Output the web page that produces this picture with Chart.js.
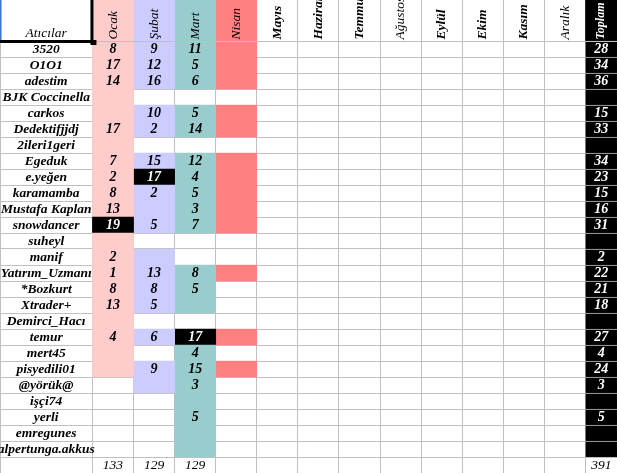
<!DOCTYPE html>
<html>
<head>
<meta charset="utf-8">
<script src="https://cdn.jsdelivr.net/npm/chart.js@4/dist/chart.umd.min.js"></script>
<style>
html,body{margin:0;padding:0;background:#ffffff;overflow:hidden}
#wrap{width:617px;height:473px;position:relative}
</style>
</head>
<body>
<div id="wrap"><canvas id="c" width="617" height="473"></canvas></div>
<script>
// ---------- data ----------
const headerName = "Atıcılar";
const months = ["Ocak","Şubat","Mart","Nisan","Mayıs","Haziran","Temmuz","Ağustos","Eylül","Ekim","Kasım","Aralık"];
const totalLabel = "Toplam";

const names = ["3520","O1O1","adestim","BJK Coccinella","carkos","Dedektifjjdj","2ileri1geri","Egeduk","e.yeğen","karamamba","Mustafa Kaplan","snowdancer","suheyl","manif","Yatırım_Uzmanı","*Bozkurt","Xtrader+","Demirci_Hacı","temur","mert45","pisyedili01","@yörük@","işçi74","yerli","emregunes","alpertunga.akkus"];

const ocak  = [8,17,14,null,null,17,null,7,2,8,13,19,null,2,1,8,13,null,4,null,null,null,null,null,null,null];
const subat = [9,12,16,null,10,2,null,15,17,2,null,5,null,null,13,8,5,null,6,null,9,null,null,null,null,null];
const mart  = [11,5,6,null,5,14,null,12,4,5,3,7,null,null,8,5,null,null,17,4,15,3,null,5,null,null];
const nisan = [null,null,null,null,null,null,null,null,null,null,null,null,null,null,null,null,null,null,null,null,null,null,null,null,null,null];

// which player/month cells are marked (filled) in the sheet (1 = marked)
const ocakActive  = [1,1,1,1,1,1,1,1,1,1,1,1,1,1,1,1,1,1,1,1,1,0,0,0,0,0];
const subatActive = [1,1,1,0,1,1,0,1,1,1,1,1,0,1,1,1,1,0,1,0,1,1,0,0,0,0];
const martActive  = [1,1,1,0,1,1,0,1,1,1,1,1,0,0,1,1,1,0,1,1,1,1,1,1,1,1];
const nisanActive = [1,1,1,0,1,1,0,1,1,1,1,1,0,0,1,0,0,0,1,0,1,0,0,0,0,0];

// ---------- layout / style (not data) ----------
const NAME_W = 2.25;      // width of the name column, in month-column units
const TOTAL_W = 0.766;    // visible width of the Toplam column
const HEADER_H = 2.5625;  // header height, in row units
const GRID = "#c0c0c0";
const FONT = '"Liberation Serif","Times New Roman",serif';
const fillColors = ["#ffcccc","#ccccff","#99cccc","#ff8080"];
const boldHeaders = ["Mayıs","Haziran","Temmuz","Eylül","Ekim","Kasım"];

const monthValues = [ocak, subat, mart, nisan];
const monthActive = [ocakActive, subatActive, martActive, nisanActive];

function colMax(vals){
  const v = vals.filter(a => a !== null);
  return v.length ? Math.max(...v) : null;
}
function rowTotal(r){
  let s = 0, any = false;
  monthValues.forEach(vals => { if (vals[r] !== null) { s += vals[r]; any = true; } });
  return any ? s : null;
}
function colTotal(vals){
  const v = vals.filter(a => a !== null);
  return v.length ? v.reduce((a,b)=>a+b,0) : null;
}

const datasets = monthValues.map((vals, k) => {
  const mx = colMax(vals);
  const data = [{x: k + 0.5, y: [-HEADER_H, 0], hl: false, head: true}];
  names.forEach((n, r) => {
    if (monthActive[k][r] || vals[r] !== null) {
      data.push({x: k + 0.5, y: [r, r + 1], hl: vals[r] !== null && vals[r] === mx, head: false});
    }
  });
  return {
    label: months[k], data,
    backgroundColor: ctx => (ctx.raw && ctx.raw.hl) ? "#000000" : fillColors[k],
    borderWidth: 0, grouped: false, barPercentage: 1, categoryPercentage: 1
  };
});
// Toplam column
(function(){
  const data = [{x: 12.5, y: [-HEADER_H, 0], head: true}];
  names.forEach((n, r) => data.push({x: 12.5, y: [r, r + 1], head: false}));
  datasets.push({
    label: totalLabel, data,
    backgroundColor: "#000000",
    borderColor: GRID,
    borderWidth: ctx => (ctx.raw && !ctx.raw.head) ? {top: 1, right: 0, bottom: 0, left: 0} : 0,
    borderSkipped: false,
    grouped: false, barPercentage: 1, categoryPercentage: 1
  });
})();

const gridPlugin = {
  id: "sheetGrid",
  beforeDatasetsDraw(chart){
    const {ctx, chartArea: ca, scales: {x, y}} = chart;
    ctx.save();
    ctx.strokeStyle = GRID; ctx.lineWidth = 1;
    ctx.beginPath();
    const xs = [-NAME_W]; for (let i = 0; i <= 12; i++) xs.push(i);
    xs.forEach(u => {
      const p = Math.max(0, Math.floor(x.getPixelForValue(u))) + 0.5;
      ctx.moveTo(p, ca.top); ctx.lineTo(p, ca.bottom);
    });
    for (let r = 0; r <= names.length + 1; r++) {
      const p = Math.floor(y.getPixelForValue(r)) + 0.5;
      ctx.moveTo(ca.left, p); ctx.lineTo(ca.right, p);
    }
    ctx.stroke();
    ctx.restore();
  }
};

const textPlugin = {
  id: "sheetText",
  afterDatasetsDraw(chart){
    const {ctx, chartArea: ca, scales: {x, y}} = chart;
    const rowH = y.getPixelForValue(1) - y.getPixelForValue(0);
    const head0 = y.getPixelForValue(0);
    const nameL = x.getPixelForValue(-NAME_W), nameR = x.getPixelForValue(0);
    const nameC = (nameL + nameR) / 2;
    const totL = x.getPixelForValue(12), totC = (totL + ca.right) / 2;

    ctx.save();
    // header bottom rule across month columns
    ctx.strokeStyle = GRID; ctx.lineWidth = 1;
    ctx.beginPath();
    ctx.moveTo(nameR, Math.floor(head0) + 0.5); ctx.lineTo(ca.right, Math.floor(head0) + 0.5);
    ctx.stroke();

    // header name
    ctx.fillStyle = "#000"; ctx.textAlign = "center"; ctx.textBaseline = "alphabetic";
    ctx.font = "italic 13.5px " + FONT;
    ctx.fillText(headerName, nameC, head0 - rowH * 0.22);

    // rotated month headers
    const heads = months.concat([totalLabel]);
    heads.forEach((m, k) => {
      const l = x.getPixelForValue(k);
      const r = k < 12 ? x.getPixelForValue(k + 1) : ca.right;
      ctx.save();
      ctx.beginPath(); ctx.rect(l, ca.top, r - l, head0 - ca.top); ctx.clip();
      ctx.translate((l + r) / 2, head0 - rowH * 0.1);
      ctx.rotate(-Math.PI / 2);
      ctx.textAlign = "left"; ctx.textBaseline = "middle";
      const bold = (k === 12 || boldHeaders.includes(m)) ? "bold " : "";
      ctx.font = "italic " + bold + (k === 12 ? "12px " : "13.5px ") + FONT;
      ctx.fillStyle = k === 12 ? "#fff" : "#000";
      ctx.fillText(m, 0, 0);
      ctx.restore();
    });

    // names
    names.forEach((n, r) => {
      const base = y.getPixelForValue(r + 0.76);
      const clipR = ocak[r] === null ? x.getPixelForValue(1) : nameR;
      ctx.save();
      ctx.beginPath(); ctx.rect(ca.left, y.getPixelForValue(r), clipR - ca.left, rowH); ctx.clip();
      ctx.font = "italic bold 13.5px " + FONT;
      ctx.fillStyle = "#000"; ctx.textAlign = "center"; ctx.textBaseline = "alphabetic";
      ctx.fillText(n, nameC, base);
      ctx.restore();
    });

    // month values
    ctx.textAlign = "center"; ctx.textBaseline = "alphabetic";
    monthValues.forEach((vals, k) => {
      const mx = colMax(vals);
      const cx = x.getPixelForValue(k + 0.5);
      vals.forEach((v, r) => {
        if (v === null) return;
        ctx.font = "italic bold 14px " + FONT;
        ctx.fillStyle = v === mx ? "#fff" : "#000";
        ctx.fillText(String(v), cx, y.getPixelForValue(r + 0.77));
      });
      const t = colTotal(vals);
      if (t !== null) {
        ctx.font = "italic 13.5px " + FONT; ctx.fillStyle = "#000";
        ctx.fillText(String(t), cx, y.getPixelForValue(names.length + 0.77));
      }
    });

    // row totals
    let grand = 0;
    names.forEach((n, r) => {
      const t = rowTotal(r);
      if (t === null) return;
      grand += t;
      ctx.font = "italic bold 14px " + FONT; ctx.fillStyle = "#fff";
      ctx.fillText(String(t), totC, y.getPixelForValue(r + 0.77));
    });
    ctx.font = "italic 13.5px " + FONT; ctx.fillStyle = "#000";
    ctx.fillText(String(grand), totC, y.getPixelForValue(names.length + 0.77));

    // selection frame on the header name cell
    ctx.fillStyle = "#000";
    ctx.fillRect(ca.left, head0 - 1, nameR - ca.left, 3);
    ctx.fillRect(nameR - 2, ca.top, 3, head0 - ca.top + 2);
    ctx.fillRect(nameR - 2, head0 - 1, 6, 5);
    ctx.fillStyle = "#3a72d0";
    ctx.fillRect(ca.left, ca.top, 1.5, head0 - ca.top - 1);
    ctx.restore();
  }
};

new Chart(document.getElementById("c"), {
  type: "bar",
  data: { datasets },
  options: {
    responsive: false,
    animation: false,
    layout: { padding: 0 },
    plugins: { legend: { display: false }, tooltip: { enabled: false } },
    scales: {
      x: {
        type: "linear", display: false, offset: false, bounds: "data",
        min: -NAME_W, max: 12 + TOTAL_W,
        afterBuildTicks: s => { const t = []; for (let i = 0; i <= 12; i++) t.push({value: i}); s.ticks = t; }
      },
      y: {
        type: "linear", display: false, reverse: true, bounds: "data",
        min: -HEADER_H, max: names.length + 1
      }
    }
  },
  plugins: [gridPlugin, textPlugin]
});
</script>
</body>
</html>
